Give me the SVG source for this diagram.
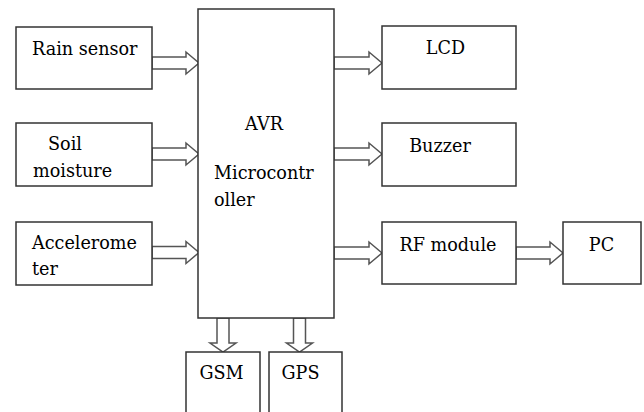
<svg xmlns="http://www.w3.org/2000/svg" width="644" height="412" viewBox="0 0 644 412">
<style>
.box{fill:#fff;stroke:#333;stroke-width:1.5}
.arr{fill:#fff;stroke:#555;stroke-width:1.5;stroke-linejoin:miter}
.t{font-family:'DejaVu Serif',serif;font-size:17.6px;fill:#000}
</style>
<rect width="644" height="412" fill="#fff"/>
<g id="connectors">
<polygon class="arr" points="152,57 186,57 186,52 199,63 186,74 186,69 152,69"/>
<polygon class="arr" points="152,148 186,148 186,143 199,154 186,165 186,160 152,160"/>
<polygon class="arr" points="152,246.5 186,246.5 186,241.5 199,252.5 186,263.5 186,258.5 152,258.5"/>
<polygon class="arr" points="334,57 369,57 369,52 382,63 369,74 369,69 334,69"/>
<polygon class="arr" points="334,148 369,148 369,143 382,154 369,165 369,160 334,160"/>
<polygon class="arr" points="334,247 369,247 369,242 382,253 369,264 369,259 334,259"/>
<polygon class="arr" points="516,247 550,247 550,242 563,253 550,264 550,259 516,259"/>
<polygon class="arr" points="217,318 217,343 210,343 223,352 236,343 229,343 229,318"/>
<polygon class="arr" points="293.5,318 293.5,343 286.5,343 299.5,352 312.5,343 305.5,343 305.5,318"/>
</g>
<g class="t">
<g id="rain"><rect class="box" x="16" y="27" width="136" height="62"/><text x="32" y="55">Rain sensor</text></g>
<g id="soil"><rect class="box" x="16" y="123" width="136" height="63"/><text x="48" y="150">Soil</text><text x="33" y="177">moisture</text></g>
<g id="accel"><rect class="box" x="16" y="222" width="136" height="63"/><text x="32" y="249">Accelerome</text><text x="32" y="275">ter</text></g>
<g id="avr"><rect class="box" x="198" y="9" width="136" height="309"/><text x="264" y="130" text-anchor="middle">AVR</text><text x="214" y="179">Microcontr</text><text x="214" y="206">oller</text></g>
<g id="lcd"><rect class="box" x="382" y="26" width="134" height="63"/><text x="445.5" y="54" text-anchor="middle">LCD</text></g>
<g id="buzzer"><rect class="box" x="382" y="123" width="134" height="63"/><text x="440" y="152" text-anchor="middle">Buzzer</text></g>
<g id="rf"><rect class="box" x="382" y="222" width="134" height="62"/><text x="448" y="251" text-anchor="middle">RF module</text></g>
<g id="pc"><rect class="box" x="563" y="222" width="78" height="62"/><text x="601.5" y="251" text-anchor="middle">PC</text></g>
<g id="gsm"><rect class="box" x="186" y="352" width="74" height="70"/><text x="221.5" y="379" text-anchor="middle">GSM</text></g>
<g id="gps"><rect class="box" x="269" y="352" width="73" height="70"/><text x="300.5" y="379" text-anchor="middle">GPS</text></g>
</g>
</svg>
